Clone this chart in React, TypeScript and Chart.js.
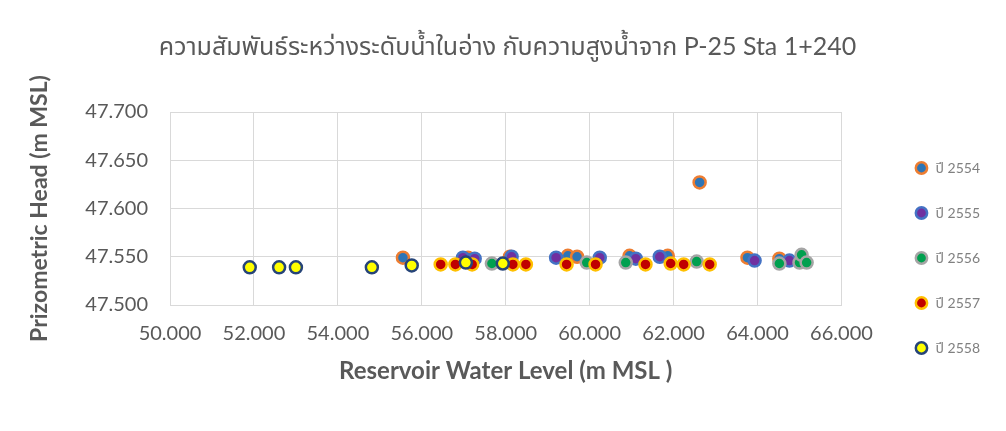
import React, { useEffect, useRef } from "react";
import { Chart, registerables } from "chart.js";

Chart.register(...registerables);

const chartTitle = "ความสัมพันธ์ระหว่างระดับน้ำในอ่าง กับความสูงน้ำจาก P-25 Sta 1+240";
const xTitle = "Reservoir Water Level (m MSL )";
const yTitle = "Prizometric Head (m MSL)";

const seriesNames = ["ปี 2554", "ปี 2555", "ปี 2556", "ปี 2557", "ปี 2558"];

// Reservoir level (x) and piezometric head (y) for each year
const x2554 = [55.55, 57.1, 58.1, 59.48, 59.7, 60.95, 61.86, 62.62, 63.76, 64.52];
const y2554 = [47.549, 47.549, 47.55, 47.551, 47.55, 47.551, 47.551, 47.627, 47.549, 47.548];

const x2555 = [56.98, 57.26, 58.14, 59.2, 60.24, 61.1, 61.67, 63.93, 64.76];
const y2555 = [47.549, 47.548, 47.55, 47.549, 47.549, 47.548, 47.55, 47.546, 47.546];

const x2556 = [57.67, 59.93, 60.86, 62.55, 64.52, 65.0, 65.05, 65.17];
const y2556 = [47.543, 47.544, 47.544, 47.545, 47.543, 47.544, 47.552, 47.544];

const x2557 = [56.45, 56.8, 57.2, 58.17, 58.48, 59.45, 60.14, 61.33, 61.93, 62.24, 62.86];
const y2557 = [47.542, 47.542, 47.542, 47.542, 47.542, 47.542, 47.542, 47.542, 47.543, 47.542, 47.542];

const x2558 = [51.9, 52.6, 53.0, 54.81, 55.76, 57.05, 57.93];
const y2558 = [47.539, 47.539, 47.539, 47.539, 47.541, 47.544, 47.543];

const xTicksMin = 50;
const xTicksMax = 66;
const xStep = 2;
const yTicksMin = 47.5;
const yTicksMax = 47.7;
const yStep = 0.05;

const fillColors = ["#2e75b6", "#7030a0", "#00a04f", "#c00000", "#ffff00"];
const borderColors = ["#ed7d31", "#4472c4", "#a5a5a5", "#ffc000", "#264478"];

const xs = [x2554, x2555, x2556, x2557, x2558];
const ys = [y2554, y2555, y2556, y2557, y2558];

const FONT = "Lato, 'Noto Sans', 'Noto Sans Thai', sans-serif";
const TEXT = "#595959";

export default function App() {
  const ref = useRef<HTMLCanvasElement | null>(null);

  useEffect(() => {
    if (!ref.current) return;
    const datasets = seriesNames.map((name, i) => ({
      label: name,
      data: xs[i].map((x, j) => ({ x, y: ys[i][j] })),
      backgroundColor: fillColors[i],
      borderColor: borderColors[i],
      pointRadius: 6,
      pointBorderWidth: 2.5,
      borderWidth: 2.5,
      pointStyle: "circle",
      order: 5 - i,
    }));

    const chart = new Chart(ref.current, {
      type: "scatter",
      data: { datasets },
      options: {
        animation: false,
        responsive: true,
        maintainAspectRatio: false,
        layout: { padding: { left: 25, right: 16, top: 0, bottom: 45 } },
        plugins: {
          title: {
            display: true,
            text: chartTitle,
            color: TEXT,
            font: { family: FONT, size: 25, weight: "normal" },
            padding: { top: 32, bottom: 50 },
          },
          legend: {
            display: true,
            position: "right",
            align: "end",
            labels: {
              usePointStyle: true,
              boxHeight: 8,
              padding: 31,
              color: "#808080",
              font: { family: FONT, size: 14 },
              sort: (a: any, b: any) => a.datasetIndex - b.datasetIndex,
            },
          },
          tooltip: { enabled: false },
        },
        scales: {
          x: {
            type: "linear",
            min: xTicksMin,
            max: xTicksMax,
            ticks: {
              stepSize: xStep,
              color: TEXT,
              padding: 17,
              font: { family: FONT, size: 20 },
              callback: (v: any) => Number(v).toFixed(3),
            },
            grid: { color: "#d9d9d9", drawTicks: false },
            border: { display: true, color: "#d9d9d9" },
            title: {
              display: true,
              text: xTitle,
              color: TEXT,
              font: { family: FONT, size: 24, weight: "bold" },
              padding: { top: 0, bottom: 0 },
            },
            afterFit: (s: any) => {
              s.height = 81;
            },
          },
          y: {
            type: "linear",
            min: yTicksMin,
            max: yTicksMax,
            ticks: {
              stepSize: yStep,
              color: TEXT,
              padding: 22,
              font: { family: FONT, size: 20 },
              callback: (v: any) => Number(v).toFixed(3),
            },
            grid: { color: "#d9d9d9", drawTicks: false },
            border: { display: true, color: "#d9d9d9" },
            title: {
              display: true,
              text: yTitle,
              color: TEXT,
              font: { family: FONT, size: 23, weight: "bold" },
              padding: { top: 1, bottom: 4 },
            },
            afterFit: (s: any) => {
              s.width = 145;
            },
          },
          y2: {
            type: "linear",
            position: "right",
            display: true,
            ticks: { display: false },
            grid: { display: false, drawTicks: false },
            border: { display: false },
            afterFit: (s: any) => {
              s.width = 42;
            },
          },
        },
      },
    });
    return () => chart.destroy();
  }, []);

  return (
    <div
      style={{
        position: "fixed",
        left: 0,
        top: 0,
        width: 1006,
        height: 431,
        background: "#ffffff",
      }}
    >
      <canvas ref={ref} />
    </div>
  );
}
